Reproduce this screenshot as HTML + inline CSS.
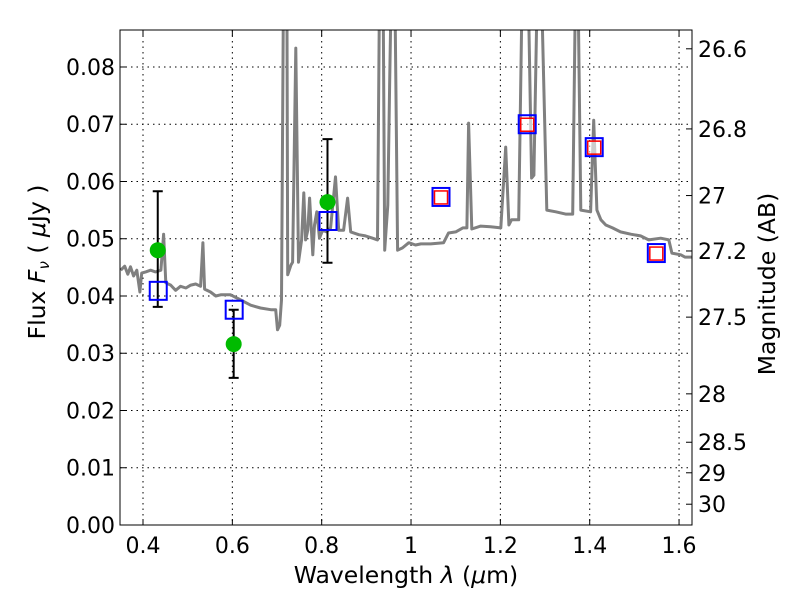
<!DOCTYPE html>
<html><head><meta charset="utf-8"><style>
body{margin:0;background:#fff}
svg text{font-family:"DejaVu Sans","Liberation Sans",sans-serif;fill:#000}
</style></head><body>
<svg id="chart" width="800" height="600">
<defs><clipPath id="clip"><rect x="120" y="30" width="572" height="495"/></clipPath></defs>
<g id="grid"></g>
<g id="spec" clip-path="url(#clip)"></g>
<g id="marks"></g>
<rect x="120" y="30" width="572" height="495" fill="none" stroke="#000" stroke-width="1"/>
<g id="axes"></g>
<text x="406" y="583" text-anchor="middle" font-size="23.5">Wavelength  <tspan font-style="italic">λ</tspan> (<tspan font-style="italic">μ</tspan>m)</text>
<text transform="translate(45,262) rotate(-90)" text-anchor="middle" font-size="23.5">Flux  <tspan font-style="italic">F</tspan><tspan font-style="italic" font-size="15" dy="4">ν</tspan><tspan dy="-4">  ( </tspan><tspan font-style="italic">μ</tspan>Jy )</text>
<text transform="translate(775,284) rotate(-90)" text-anchor="middle" font-size="23.5">Magnitude (AB)</text>
</svg>
<script>
const specLam=[0.350,0.359,0.366,0.372,0.379,0.386,0.393,0.397,0.406,0.417,0.428,0.440,0.446,0.451,0.462,0.473,0.484,0.496,0.507,0.518,0.529,0.534,0.538,0.551,0.563,0.574,0.596,0.619,0.641,0.663,0.686,0.697,0.701,0.706,0.710,0.715,0.722,0.724,0.731,0.735,0.742,0.748,0.755,0.760,0.764,0.769,0.773,0.780,0.784,0.789,0.795,0.802,0.811,0.820,0.831,0.838,0.849,0.858,0.865,0.883,0.898,0.914,0.925,0.930,0.937,0.941,0.948,0.952,0.957,0.963,0.970,0.981,0.995,1.010,1.022,1.044,1.073,1.084,1.100,1.116,1.125,1.129,1.136,1.156,1.178,1.201,1.212,1.219,1.225,1.241,1.250,1.261,1.270,1.275,1.284,1.290,1.304,1.324,1.346,1.362,1.369,1.373,1.380,1.402,1.409,1.416,1.425,1.436,1.451,1.469,1.492,1.514,1.532,1.559,1.577,1.584,1.604,1.613,1.630];
const specFlux=[0.0445,0.0452,0.0438,0.0451,0.0435,0.0445,0.0407,0.0440,0.0442,0.0445,0.0442,0.0445,0.0508,0.0423,0.0419,0.0410,0.0417,0.0414,0.0419,0.0421,0.0417,0.0493,0.0412,0.0407,0.0400,0.0402,0.0402,0.0393,0.0384,0.0379,0.0376,0.0376,0.0341,0.0349,0.0393,0.1,0.1,0.0437,0.0454,0.0459,0.0833,0.0459,0.0498,0.0580,0.0498,0.0515,0.0571,0.0472,0.0524,0.0547,0.0501,0.0515,0.0512,0.0519,0.0608,0.0515,0.0515,0.0571,0.0512,0.0507,0.0505,0.0501,0.0498,0.1,0.1,0.0480,0.0559,0.0765,0.1,0.1,0.0480,0.0484,0.0493,0.0489,0.0491,0.0491,0.0493,0.0510,0.0512,0.0519,0.0519,0.0702,0.0517,0.0522,0.0521,0.0519,0.0660,0.0524,0.0533,0.0533,0.1,0.1,0.0606,0.0611,0.1,0.1,0.0550,0.0547,0.0543,0.0543,0.1,0.1,0.0550,0.0547,0.0707,0.0550,0.0533,0.0524,0.0519,0.0512,0.0508,0.0505,0.0498,0.0501,0.0498,0.0475,0.0472,0.0468,0.0468];
const obsLam=[0.433,0.603,0.813];
const obsFlux=[0.0480,0.0316,0.0564];
const obsHi=[0.0583,0.0376,0.0674];
const obsLo=[0.0381,0.0257,0.0458];
const blueLam=[0.433,0.603,0.813,1.066,1.259,1.409,1.548];
const blueFlux=[0.0409,0.0376,0.0531,0.0573,0.0700,0.0660,0.0475];
const redLam=[1.066,1.259,1.409,1.548];
const redFlux=[0.0573,0.0700,0.0660,0.0475];
const xTicks=[0.4,0.6,0.8,1.0,1.2,1.4,1.6];
const xTickLabels=["0.4","0.6","0.8","1","1.2","1.4","1.6"];
const yTicks=[0,0.01,0.02,0.03,0.04,0.05,0.06,0.07,0.08];
const yTickLabels=["0.00","0.01","0.02","0.03","0.04","0.05","0.06","0.07","0.08"];
const magTicks=[26.6,26.8,27,27.2,27.5,28,28.5,29,30];
const magLabels=["26.6","26.8","27","27.2","27.5","28","28.5","29","30"];

const L=120,R=692,T=30,B=525,x0=0.3485,x1=1.629,y1=0.08646;
const sx=v=>L+(v-x0)/(x1-x0)*(R-L);
const sy=v=>B-v/y1*(B-T);
const NS="http://www.w3.org/2000/svg";
function mk(tag,parent,attrs){const e=document.createElementNS(NS,tag);for(const k in attrs)e.setAttribute(k,attrs[k]);parent.appendChild(e);return e;}
const grid=document.getElementById('grid'),axes=document.getElementById('axes');
xTicks.forEach((t,i)=>{const x=sx(t);
 let g=mk('line',grid,{x1:x,x2:x,y1:T,y2:B,stroke:'#000','stroke-dasharray':'1.5,4','stroke-width':1});
 
 mk('line',axes,{x1:x,x2:x,y1:B,y2:B-6,stroke:'#000'});mk('line',axes,{x1:x,x2:x,y1:T,y2:T+6,stroke:'#000'});
 let tx=mk('text',axes,{x:x,y:B+28,'text-anchor':'middle','font-size':22});tx.textContent=xTickLabels[i];
 });
yTicks.forEach((t,i)=>{const y=sy(t);
 let g=mk('line',grid,{x1:L,x2:R,y1:y,y2:y,stroke:'#000','stroke-dasharray':'1.5,4','stroke-width':1});
 
 mk('line',axes,{x1:L,x2:L+6,y1:y,y2:y,stroke:'#000'});
 let tx=mk('text',axes,{x:L-5,y:y+8,'text-anchor':'end','font-size':22});tx.textContent=yTickLabels[i];
 });
magTicks.forEach((m,i)=>{const f=Math.pow(10,(23.9-m)/2.5);const y=sy(f);
 mk('line',axes,{x1:R,x2:R-6,y1:y,y2:y,stroke:'#000'});
 let tx=mk('text',axes,{x:R+6,y:y+8,'font-size':22});tx.textContent=magLabels[i];
 });
const spec=document.getElementById('spec');
const pts=specLam.map((l,i)=>sx(l).toFixed(1)+','+sy(specFlux[i]).toFixed(1)).join(' ');
const pl=mk('polyline',spec,{points:pts,fill:'none',stroke:'#808080','stroke-width':3,'stroke-linejoin':'round'});


const marks=document.getElementById('marks');
obsLam.forEach((l,i)=>{const x=sx(l);
 const e=mk('path',marks,{d:`M${x},${sy(obsHi[i])}V${sy(obsLo[i])}M${x-5},${sy(obsHi[i])}h10M${x-5},${sy(obsLo[i])}h10`,stroke:'#000','stroke-width':2,fill:'none'});
 
 });
obsLam.forEach((l,i)=>{const c=mk('circle',marks,{cx:sx(l),cy:sy(obsFlux[i]),r:8,fill:'#00bb00'});
 
 });
blueLam.forEach((l,i)=>{const r=mk('rect',marks,{x:sx(l)-8,y:sy(blueFlux[i])-9,width:17,height:18,fill:'none',stroke:'#0000ff','stroke-width':2});
 
 });
redLam.forEach((l,i)=>{const r=mk('rect',marks,{x:sx(l)-6,y:sy(redFlux[i])-6,width:13,height:13,fill:'#fff','fill-opacity':0.6,stroke:'#ff0000','stroke-width':1.5});
 
 });
</script>
</body></html>
